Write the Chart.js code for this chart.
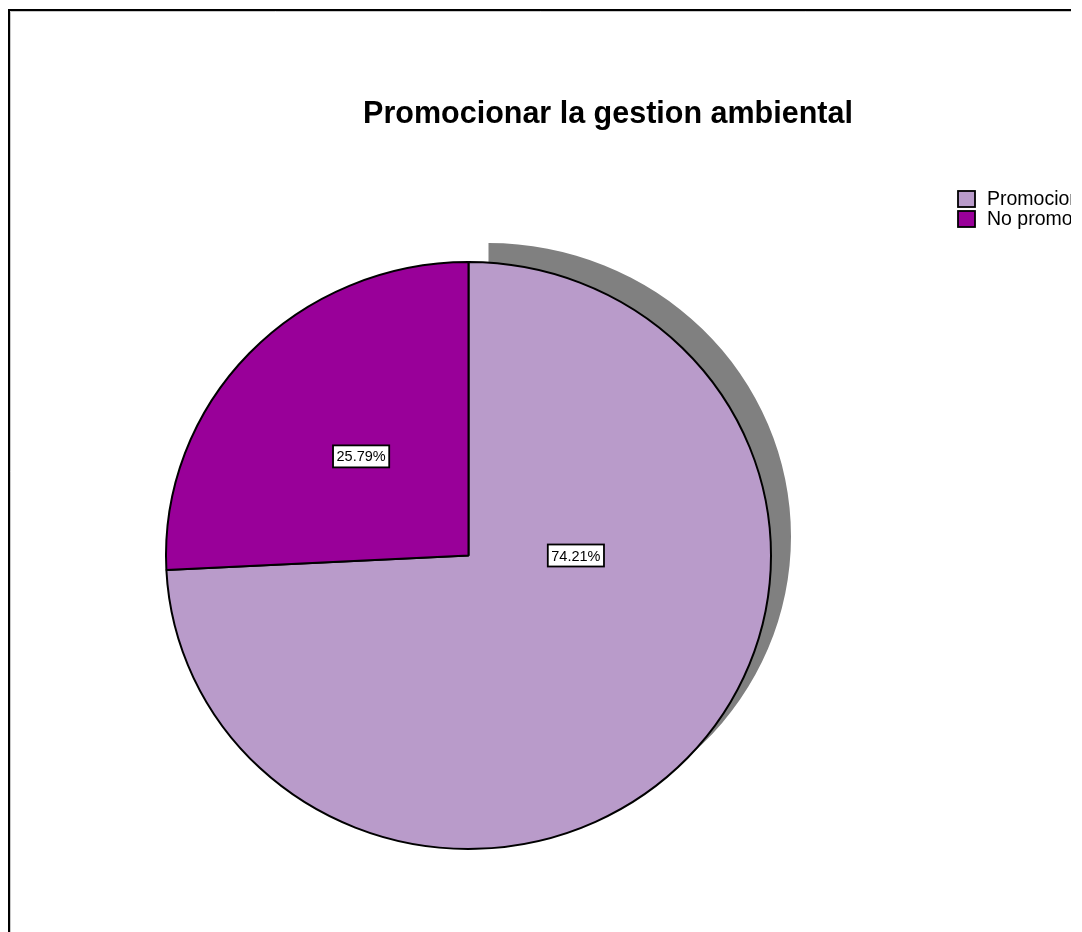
<!DOCTYPE html>
<html>
<head>
<meta charset="utf-8">
<script src="https://cdn.jsdelivr.net/npm/chart.js@4/dist/chart.umd.min.js"></script>
<style>
  html, body { margin: 0; padding: 0; background: #ffffff; }
  canvas { display: block; }
</style>
</head>
<body>
<canvas id="pie" width="1082" height="932"></canvas>
<script>
// Chart content
const chartTitle = 'Promocionar la gestion ambiental';
const categories = ['Promociona', 'No promociona'];
const percentages = [74.21, 25.79];
const sliceColors = ['#b99bca', '#990099'];

const FONT = '"Liberation Sans", Arial, sans-serif';

// Flattens the pie slightly vertically and draws the drop shadow of the large slice
const ellipsePie = {
  id: 'ellipsePie',
  beforeDatasetsDraw(chart, args, opts) {
    const arc = chart.getDatasetMeta(0).data[0];
    const ctx = chart.ctx;
    ctx.save();
    ctx.translate(arc.x, arc.y);
    ctx.scale(1, opts.yScale);
    ctx.translate(-arc.x, -arc.y);
    // shadow behind the first slice
    ctx.save();
    ctx.translate(opts.shadowDx, opts.shadowDy / opts.yScale);
    ctx.beginPath();
    ctx.moveTo(arc.x, arc.y);
    ctx.arc(arc.x, arc.y, arc.outerRadius, arc.startAngle, arc.endAngle);
    ctx.closePath();
    ctx.fillStyle = opts.shadowColor;
    ctx.fill();
    ctx.restore();
  },
  afterDatasetsDraw(chart) {
    chart.ctx.restore();
  }
};

// Boxed percentage labels, title, legend and frame
const decorations = {
  id: 'decorations',
  afterDraw(chart, args, opts) {
    const ctx = chart.ctx;
    const meta = chart.getDatasetMeta(0);
    const values = chart.data.datasets[0].data;

    // percentage labels
    ctx.save();
    ctx.font = '14.5px ' + FONT;
    ctx.textAlign = 'center';
    ctx.textBaseline = 'middle';
    meta.data.forEach((arc, i) => {
      const place = opts.labelPlacement[i];
      const ang = place.angle === null ? (arc.startAngle + arc.endAngle) / 2 : place.angle;
      const r = arc.outerRadius * place.frac;
      const x = arc.x + Math.cos(ang) * r;
      const y = arc.y + Math.sin(ang) * r * opts.yScale;
      const text = values[i].toFixed(2) + '%';
      const w = ctx.measureText(text).width + 7;
      const h = 22;
      ctx.fillStyle = '#ffffff';
      ctx.fillRect(x - w / 2, y - h / 2, w, h);
      ctx.lineWidth = 1.8;
      ctx.strokeStyle = '#000000';
      ctx.strokeRect(x - w / 2, y - h / 2, w, h);
      ctx.fillStyle = '#000000';
      ctx.fillText(text, x, y + 1);
    });
    ctx.restore();

    // title
    ctx.save();
    ctx.font = 'bold 30.5px ' + FONT;
    ctx.textAlign = 'center';
    ctx.textBaseline = 'middle';
    ctx.fillStyle = '#000000';
    ctx.fillText(chartTitle, 608, 115);
    ctx.restore();

    // legend, cut off by the frame edge
    ctx.save();
    ctx.beginPath();
    ctx.rect(0, 0, 1071, 932);
    ctx.clip();
    ctx.font = '19.5px ' + FONT;
    ctx.textBaseline = 'middle';
    chart.data.labels.forEach((lab, i) => {
      const y = 199 + i * 20;
      ctx.fillStyle = sliceColors[i];
      ctx.fillRect(958, y - 8, 17, 16);
      ctx.lineWidth = 1.8;
      ctx.strokeStyle = '#000000';
      ctx.strokeRect(958, y - 8, 17, 16);
      ctx.fillStyle = '#000000';
      ctx.fillText(lab, 987, y + 1);
    });
    ctx.restore();

    // frame
    ctx.save();
    ctx.strokeStyle = '#c8c8c8';
    ctx.lineWidth = 1;
    ctx.beginPath();
    ctx.moveTo(10.5, 932);
    ctx.lineTo(10.5, 11.5);
    ctx.lineTo(1071, 11.5);
    ctx.stroke();
    ctx.strokeStyle = '#000000';
    ctx.lineWidth = 2;
    ctx.beginPath();
    ctx.moveTo(9, 932);
    ctx.lineTo(9, 10);
    ctx.lineTo(1071, 10);
    ctx.stroke();
    ctx.restore();
  }
};

new Chart(document.getElementById('pie'), {
  type: 'pie',
  data: {
    labels: categories,
    datasets: [{
      data: percentages,
      backgroundColor: sliceColors,
      borderColor: '#000000',
      borderWidth: 2,
      clip: false
    }]
  },
  options: {
    responsive: false,
    animation: false,
    events: [],
    rotation: 0,
    layout: { padding: { left: 165, right: 310, top: 252, bottom: 73 } },
    plugins: {
      legend: { display: false },
      title: { display: false },
      tooltip: { enabled: false },
      ellipsePie: { yScale: 0.97, shadowDx: 20, shadowDy: -19, shadowColor: '#808080' },
      decorations: {
        yScale: 0.97,
        labelPlacement: [
          { angle: 0, frac: 0.355 },
          { angle: null, frac: 0.49 }
        ]
      }
    }
  },
  plugins: [ellipsePie, decorations]
});
</script>
</body>
</html>
